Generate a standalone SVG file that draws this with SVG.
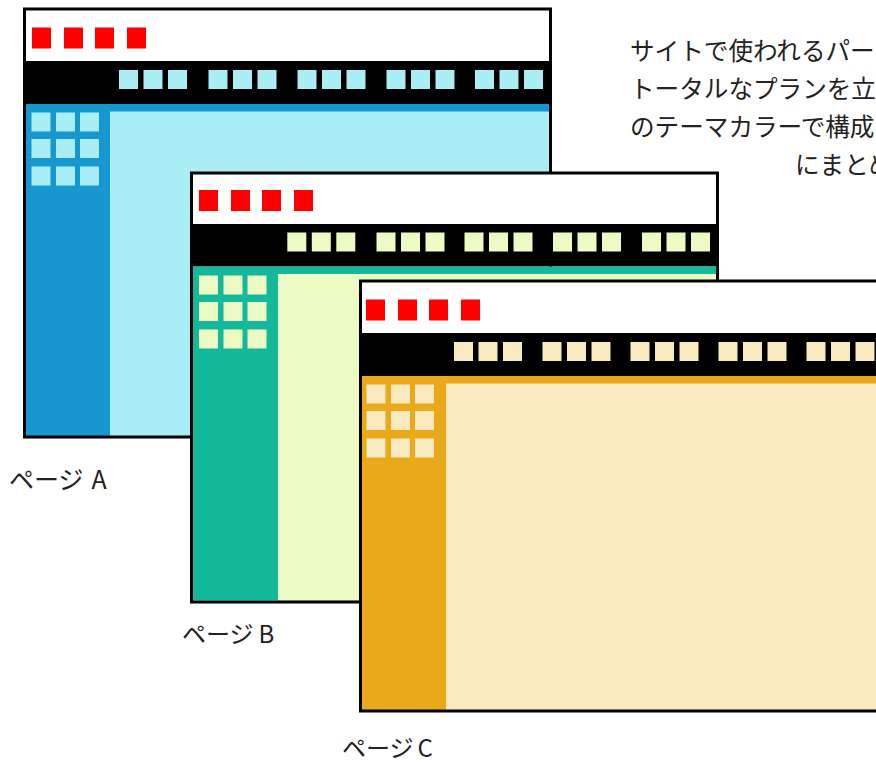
<svg xmlns="http://www.w3.org/2000/svg" xmlns:xlink="http://www.w3.org/1999/xlink" width="876" height="763" viewBox="0 0 876 763">
  <style>
    .frame{fill:none;stroke:#000;stroke-width:3}
    .hdr{fill:#fff}
    .nav{fill:#000}
    .red{fill:#ff0000}
    .a-side{fill:#1797cf}
    .a-lt{fill:#aaeef5}
    .b-side{fill:#14b99c}
    .b-lt{fill:#ebfbc3}
    .c-side{fill:#e9a91b}
    .c-lt{fill:#f8e9bf}
    .txt{font-family:"Noto Sans CJK JP","Noto Sans",sans-serif;fill:#222}
    .main{font-size:24.6px}
    .lbl{font-size:24px}
    .lbla{font-size:25px}
  </style>
  <defs>
    <g id="reds">
      <rect class="red" x="9" y="20" width="19" height="21"/>
      <rect class="red" x="41" y="20" width="19" height="21"/>
      <rect class="red" x="72" y="20" width="19" height="21"/>
      <rect class="red" x="104" y="20" width="19" height="21"/>
    </g>
    <g id="tri">
      <rect x="0" y="62.5" width="19" height="19"/>
      <rect x="24.5" y="62.5" width="19" height="19"/>
      <rect x="49" y="62.5" width="19" height="19"/>
    </g>
    <g id="grid">
      <rect x="8.5" y="105" width="19" height="19"/>
      <rect x="33" y="105" width="19" height="19"/>
      <rect x="57" y="105" width="19" height="19"/>
      <rect x="8.5" y="131.5" width="19" height="19"/>
      <rect x="33" y="131.5" width="19" height="19"/>
      <rect x="57" y="131.5" width="19" height="19"/>
      <rect x="8.5" y="159" width="19" height="19"/>
      <rect x="33" y="159" width="19" height="19"/>
      <rect x="57" y="159" width="19" height="19"/>
    </g>
  </defs>

  <g id="page-a" transform="translate(23,7.5)">
    <rect class="hdr" x="1.5" y="1.5" width="526" height="52"/>
    <rect class="nav" x="0" y="53.5" width="529" height="43"/>
    <rect class="a-side" x="1.5" y="96.5" width="526" height="332"/>
    <rect class="a-lt" x="87" y="104" width="440.5" height="324.5"/>
    <use xlink:href="#reds"/>
    <use class="a-lt" xlink:href="#tri" x="96"/>
    <use class="a-lt" xlink:href="#tri" x="185.5"/>
    <use class="a-lt" xlink:href="#tri" x="274.5"/>
    <use class="a-lt" xlink:href="#tri" x="363.5"/>
    <use class="a-lt" xlink:href="#tri" x="452"/>
    <use class="a-lt" xlink:href="#grid"/>
    <rect class="frame" x="1.5" y="1.5" width="526" height="428"/>
  </g>

  <g id="page-b" transform="translate(190,171.5)">
    <rect class="hdr" x="1.5" y="1.5" width="526" height="52"/>
    <rect class="nav" x="0" y="52.5" width="529" height="42.5"/>
    <rect class="b-side" x="1.5" y="95" width="526" height="334"/>
    <rect class="b-lt" x="88" y="102.5" width="439.5" height="326.5"/>
    <g transform="translate(0,-1.5)"><use xlink:href="#reds"/></g>
    <g transform="translate(0,-1.5)">
      <use class="b-lt" xlink:href="#tri" x="97.3"/>
      <use class="b-lt" xlink:href="#tri" x="186.5"/>
      <use class="b-lt" xlink:href="#tri" x="274.5"/>
      <use class="b-lt" xlink:href="#tri" x="363"/>
      <use class="b-lt" xlink:href="#tri" x="452"/>
    </g>
    <g transform="translate(0.5,-1)"><use class="b-lt" xlink:href="#grid"/></g>
    <rect class="frame" x="1.5" y="1.5" width="526" height="429"/>
  </g>

  <g id="page-c" transform="translate(359,279.5)">
    <rect class="hdr" x="1.5" y="1.5" width="526" height="52"/>
    <rect class="nav" x="0" y="53.5" width="529" height="43"/>
    <rect class="c-side" x="1.5" y="96.5" width="526" height="334"/>
    <rect class="c-lt" x="87" y="104" width="440.5" height="326.5"/>
    <use xlink:href="#reds" x="-2"/>
    <use class="c-lt" xlink:href="#tri" x="95"/>
    <use class="c-lt" xlink:href="#tri" x="183.5"/>
    <use class="c-lt" xlink:href="#tri" x="271.5"/>
    <use class="c-lt" xlink:href="#tri" x="359.5"/>
    <use class="c-lt" xlink:href="#tri" x="447.5"/>
    <use class="c-lt" xlink:href="#grid" x="-1"/>
    <rect class="frame" x="1.5" y="1.5" width="526" height="430"/>
  </g>

  <g id="note">
    <text class="txt main" x="630" y="60">サイトで使われるパー</text>
    <text class="txt main" x="630" y="97.5">トータルなプランを立</text>
    <text class="txt main" x="630" y="135.5">のテーマカラーで構成</text>
    <text class="txt main" x="795" y="174">にまとめ</text>
  </g>

  <g id="labels">
    <text class="txt lbla" x="9" y="488.5">ページ<tspan dx="8">A</tspan></text>
    <text class="txt lbl" x="182" y="643">ページ<tspan dx="5">B</tspan></text>
    <text class="txt lbl" x="342" y="756.5">ページ<tspan dx="4">C</tspan></text>
  </g>
</svg>
